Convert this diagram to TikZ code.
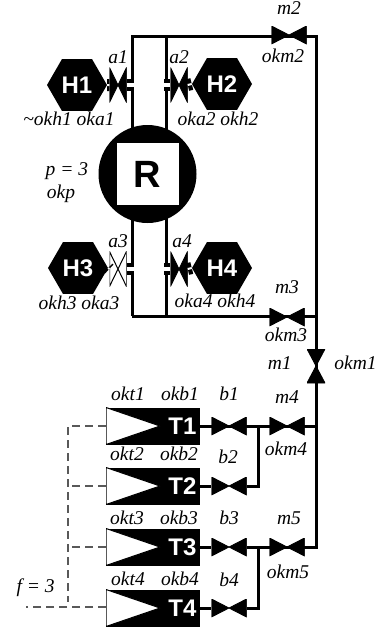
\documentclass[tikz,border=0pt]{standalone}
\usepackage{fontspec}
\setmainfont{Liberation Serif}
\newfontfamily\labelsans{Liberation Sans}
\usetikzlibrary{positioning,shapes.geometric,backgrounds}

\begin{document}
\begin{tikzpicture}[
		x=1pt, y=-1pt,
		lab/.style={inner sep=0pt, text height=11pt, text depth=5pt,
				font=\fontsize{19.5}{20}\selectfont\itshape},
		heater/.style={regular polygon, regular polygon sides=6,
				fill=black, text=white, minimum size=60pt, inner sep=0pt,
				font=\fontsize{24}{24}\selectfont\labelsans\bfseries},
		tank/.style={rectangle, fill=black, text=white, minimum width=94pt, minimum height=37pt,
				inner sep=0pt, text width=87pt, align=right,
				font=\fontsize{24}{24}\selectfont\labelsans\bfseries,
				path picture={\draw[fill=white, line width=1pt]
						(path picture bounding box.north west)
						-- ([xshift=54pt]path picture bounding box.west)
						-- (path picture bounding box.south west) -- cycle;}},
		valve/.style={rectangle, inner sep=0pt, minimum width=35pt, minimum height=18pt,
				path picture={\filldraw[line width=0.8pt]
						(path picture bounding box.north west) -- (path picture bounding box.south east)
						-- (path picture bounding box.north east) -- (path picture bounding box.south west) -- cycle;}},
		valveup/.style={rectangle, inner sep=0pt, minimum width=18pt, minimum height=34pt,
				path picture={\filldraw[line width=0.8pt]
						(path picture bounding box.north west) -- (path picture bounding box.south east)
						-- (path picture bounding box.south west) -- (path picture bounding box.north east) -- cycle;}},
		slim/.style={valve, minimum width=17pt, minimum height=35pt},
		slimoff/.style={rectangle, inner sep=0pt, minimum width=17pt, minimum height=35pt, fill=white,
				path picture={\draw[line width=1pt]
						(path picture bounding box.north west) -- (path picture bounding box.south east)
						-- (path picture bounding box.north east) -- (path picture bounding box.south west) -- cycle;}},
		main/.style={line width=3pt, black},
		pipe/.style={line width=4pt, double=white, double distance=4pt},
		stub/.style={line width=5pt, double=white, double distance=2pt},
		sig/.style={line width=1.2pt, black!65, dash pattern=on 8pt off 5pt},
		]
		\useasboundingbox (0,0) rectangle (377,630);

		% corners of the pipe work
		\coordinate (tl) at (132,36);
		\coordinate (tm) at (166,36);
		\coordinate (tr) at (316,36);
		\coordinate (bl) at (132,316);
		\coordinate (bm) at (166,316);
		\coordinate (br) at (316,316);
		\coordinate (j4) at (258,426);
		\coordinate (j5) at (258,547);
		\coordinate (c4) at (316,426);
		\coordinate (c5) at (316,547);
		\coordinate (sv) at (68,423);
		\coordinate (se) at (68,602);
		\coordinate (sf) at (26,607);
		\coordinate (sg) at (106,607);

		% reactor
		\node[circle, fill=black, minimum size=98pt, inner sep=0pt] (r) at (147.5,174) {};
		\node[rectangle, fill=white, minimum size=62pt, inner sep=0pt,
			font=\fontsize{38}{38}\selectfont\labelsans\bfseries] (rbox) at (r) {R};

		\node[slim] (a1) at (118,85) {};
		\node[slim] (a2) at (179,85) {};
		\node[slimoff] (a3) at (118,269) {};
		\node[slim] (a4) at (179,269) {};

		\node[valve] (m2) at (289,35) {};
		\node[valve] (m3) at (287,317) {};
		\node[valveup] (m1) at (316,366) {};
		\node[valve] (m4) at (287,426) {};
		\node[valve] (m5) at (287,547) {};

		\node[tank] (t1) at (153,426) {T1};
		\node[tank] (t2) at (153,486) {T2};
		\node[tank] (t3) at (153,547) {T3};
		\node[tank] (t4) at (153,608) {T4};

		\node[valve] (b1) at (229,426) {};
		\node[valve] (b2) at (229,486) {};
		\node[valve] (b3) at (229,547) {};
		\node[valve] (b4) at (229,608) {};

		\node[heater] (h1) at (77,85) {H1};
		\node[heater] (h2) at (222,84) {H2};
		\node[heater] (h3) at (78,268) {H3};
		\node[heater] (h4) at (222,268) {H4};

		\coordinate (p1) at (134,85);
		\coordinate (p2) at (164,85);
		\coordinate (p3) at (134,269);
		\coordinate (p4) at (164,269);

		\begin{scope}[on background layer]
			\draw[main] (bl) -- (tl) -- (tr) -- (c5) -- (b3);
			\draw[main] (bm) -- (tm);
			\draw[main] (bl) -- (br);
			\draw[main] (t1) -- (c4);
			\draw[main] (t2) -- (b2);
			\draw[main] (t3) -- (b3);
			\draw[main] (t4) -- (b4);
			\draw[main] (b2) -| (j4);
			\draw[main] (b4) -| (j5);
			\draw[sig] (t1.west) -| (se);
			\draw[sig] (t2.west) -- (t2.west -| sv);
			\draw[sig] (t3.west) -- (t3.west -| sv);
			\draw[sig] (sg) -- (sf);
		\end{scope}

		\draw[stub] (h1.east) -- (a1.west);
		\draw[pipe] (a1.east) -- (p1);
		\draw[stub] (h2.west) -- (a2.east);
		\draw[pipe] (a2.west) -- (p2);
		\draw[stub] (h3.east) -- (a3.west);
		\draw[pipe] (a3.east) -- (p3);
		\draw[stub] (h4.west) -- (a4.east);
		\draw[pipe] (a4.west) -- (p4);

		\node[lab, above=-1pt of a1] (la1) {a1};
		\node[lab, above=-1pt of a2] (la2) {a2};
		\node[lab, above=-1pt of a3] (la3) {a3};
		\node[lab, above=-1pt of a4, xshift=3pt] (la4) {a4};
		\node[lab, below=3pt of h1, xshift=-8pt] (lh1) {\textasciitilde okh1 oka1};
		\node[lab, below=4pt of h2, xshift=-4pt] (lh2) {oka2 okh2};
		\node[lab, below=4pt of h3, xshift=1pt] (lh3) {okh3 oka3};
		\node[lab, below=2pt of h4, xshift=-7pt] (lh4) {oka4 okh4};
		\node[lab, left=10pt of r, yshift=2pt] (lp) {p = 3};
		\node[lab, left=23pt of r, yshift=-21pt] (lokp) {okp};

		\node[lab, above=6pt of m2] (lm2) {m2};
		\node[lab, below=7pt of m2, xshift=-6pt] (lokm2) {okm2};
		\node[lab, above=9pt of m3] (lm3) {m3};
		\node[lab, below=4pt of m3, xshift=-1pt] (lokm3) {okm3};
		\node[lab, left=15pt of m1] (lm1) {m1};
		\node[lab, right=9pt of m1] (lokm1) {okm1};
		\node[lab, above=8pt of m4] (lm4) {m4};
		\node[lab, below=9pt of m4, xshift=-1pt] (lokm4) {okm4};
		\node[lab, above=8pt of m5, xshift=2pt] (lm5) {m5};
		\node[lab, below=11pt of m5, xshift=1pt] (lokm5) {okm5};

		\node[lab, above=11pt of b1] (lb1) {b1};
		\node[lab, above=8pt of b2, xshift=-1pt] (lb2) {b2};
		\node[lab, above=8pt of b3] (lb3) {b3};
		\node[lab, above=7pt of b4] (lb4) {b4};

		\node[lab, above=2pt of t1, xshift=-25pt] (lt1) {okt1};
		\node[lab, above=2pt of t1, xshift=27pt] (lk1) {okb1};
		\node[lab, above=2pt of t2, xshift=-26pt] (lt2) {okt2};
		\node[lab, above=2pt of t2, xshift=26pt] (lk2) {okb2};
		\node[lab, above=-1pt of t3, xshift=-26pt] (lt3) {okt3};
		\node[lab, above=-1pt of t3, xshift=26pt] (lk3) {okb3};
		\node[lab, above=-1pt of t4, xshift=-25pt] (lt4) {okt4};
		\node[lab, above=-1pt of t4, xshift=27pt] (lk4) {okb4};
		\node[lab, left=51pt of t4, yshift=19pt] (lf) {f = 3};

	\end{tikzpicture}
\end{document}
